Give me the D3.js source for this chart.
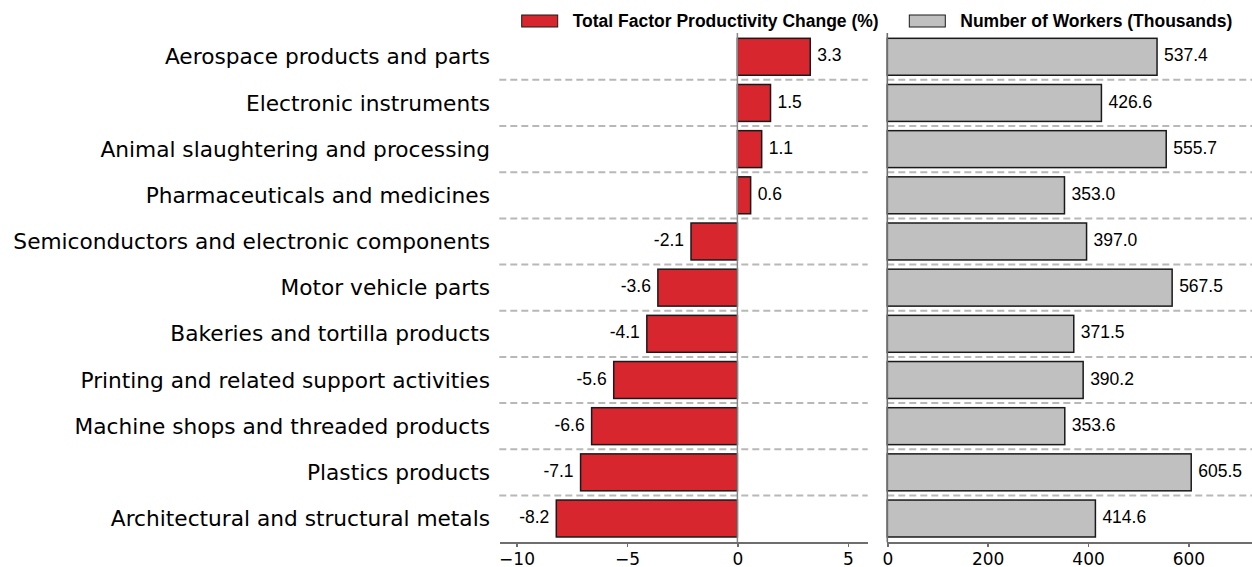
<!DOCTYPE html>
<head>
  <meta charset="utf-8">
  <script src="https://d3js.org/d3.v7.min.js"></script>
  <style>
    body { margin: 0; background: #fff; }
    .axis path, .axis line { stroke: #6e6e6e; stroke-width: 1.6; shape-rendering: crispEdges; }
    .axis text { font-family: "DejaVu Sans", sans-serif; font-size: 17px; fill: #000; }
    .cat { font-family: "DejaVu Sans", sans-serif; font-size: 21.7px; fill: #000; }
    .val { font-family: "Liberation Sans", Arial, sans-serif; font-size: 17.5px; fill: #000; }
    .leg { font-family: "Liberation Sans", Arial, sans-serif; font-size: 17.5px; font-weight: bold; fill: #000; }
  </style>
</head>
<body>
<script>
    // categories, top to bottom
    var industries = [
        "Aerospace products and parts",
        "Electronic instruments",
        "Animal slaughtering and processing",
        "Pharmaceuticals and medicines",
        "Semiconductors and electronic components",
        "Motor vehicle parts",
        "Bakeries and tortilla products",
        "Printing and related support activities",
        "Machine shops and threaded products",
        "Plastics products",
        "Architectural and structural metals"
    ];
    var tfpChange = [3.3, 1.5, 1.1, 0.6, -2.1, -3.6, -4.1, -5.6, -6.6, -7.1, -8.2];
    var workers = [537.4, 426.6, 555.7, 353.0, 397.0, 567.5, 371.5, 390.2, 353.6, 605.5, 414.6];
    var tfpTicks = [-10, -5, 0, 5];
    var workerTicks = [0, 200, 400, 600];
    var legendLabels = ["Total Factor Productivity Change (%)", "Number of Workers (Thousands)"];

    var w = 1252, h = 567;
    var plotTop = 33, plotBottom = 542.3;

    var svg = d3.select("body").append("svg")
        .attr("width", w)
        .attr("height", h);

    var y = d3.scaleBand()
        .domain(industries)
        .range([plotTop, plotBottom])
        .paddingInner(0.2)
        .paddingOuter(0.115);

    var xL = d3.scaleLinear().domain([-10.78, 5.9]).range([499.3, 867.7]);
    var xR = d3.scaleLinear().domain([0, 726.6]).range([887.3, 1252]);

    // dashed separators between rows
    var seps = industries.slice(1);
    [xL, xR].forEach(function(sc) {
        svg.selectAll(null)
            .data(seps)
            .enter()
            .append("line")
            .attr("x1", sc.range()[0])
            .attr("x2", sc.range()[1])
            .attr("y1", function(d) { return y(d) - y.step() * y.paddingInner() / 2; })
            .attr("y2", function(d) { return y(d) - y.step() * y.paddingInner() / 2; })
            .attr("stroke", "#b8b8b8")
            .attr("stroke-width", 2)
            .attr("stroke-dasharray", "7,4");
    });

    // left panel bars
    svg.selectAll(".tfp")
        .data(tfpChange)
        .enter()
        .append("rect")
        .attr("x", function(d) { return xL(Math.min(0, d)); })
        .attr("y", function(d, i) { return y(industries[i]); })
        .attr("width", function(d) { return Math.abs(xL(d) - xL(0)); })
        .attr("height", y.bandwidth())
        .attr("fill", "#d7262e")
        .attr("stroke", "#1a1a1a")
        .attr("stroke-width", 1.5);

    // zero line
    svg.append("line")
        .attr("x1", xL(0)).attr("x2", xL(0))
        .attr("y1", plotTop).attr("y2", plotBottom)
        .attr("stroke", "#888")
        .attr("stroke-width", 1.5);

    svg.selectAll(".tfpval")
        .data(tfpChange)
        .enter()
        .append("text")
        .attr("class", "val")
        .attr("x", function(d) { return d >= 0 ? xL(d) + 7 : xL(d) - 7; })
        .attr("y", function(d, i) { return y(industries[i]) + y.bandwidth() / 2; })
        .attr("dy", "0.26em")
        .attr("text-anchor", function(d) { return d >= 0 ? "start" : "end"; })
        .text(function(d) { return d.toFixed(1); });

    // right panel bars
    svg.selectAll(".wk")
        .data(workers)
        .enter()
        .append("rect")
        .attr("x", xR(0))
        .attr("y", function(d, i) { return y(industries[i]); })
        .attr("width", function(d) { return xR(d) - xR(0); })
        .attr("height", y.bandwidth())
        .attr("fill", "#c0c0c0")
        .attr("stroke", "#1a1a1a")
        .attr("stroke-width", 1.5);

    svg.selectAll(".wkval")
        .data(workers)
        .enter()
        .append("text")
        .attr("class", "val")
        .attr("x", function(d) { return xR(d) + 7; })
        .attr("y", function(d, i) { return y(industries[i]) + y.bandwidth() / 2; })
        .attr("dy", "0.26em")
        .text(function(d) { return d.toFixed(1); });

    // category labels
    svg.selectAll(".cat")
        .data(industries)
        .enter()
        .append("text")
        .attr("class", "cat")
        .attr("x", 490)
        .attr("y", function(d) { return y(d) + y.bandwidth() / 2; })
        .attr("dy", "0.35em")
        .attr("text-anchor", "end")
        .text(function(d) { return d; });

    // axes
    svg.append("g")
        .attr("class", "axis")
        .attr("transform", "translate(0," + plotBottom + ")")
        .call(d3.axisBottom(xL).tickValues(tfpTicks).tickSize(5).tickSizeOuter(0).tickPadding(6)
            .tickFormat(function(d) { return d < 0 ? "\u2212" + Math.abs(d) : d; }));

    svg.append("g")
        .attr("class", "axis")
        .attr("transform", "translate(0," + plotBottom + ")")
        .call(d3.axisBottom(xR).tickValues(workerTicks).tickSize(5).tickSizeOuter(0).tickPadding(6));

    svg.append("line")
        .attr("x1", xR(0)).attr("x2", xR(0))
        .attr("y1", plotTop).attr("y2", plotBottom)
        .attr("stroke", "#6e6e6e")
        .attr("stroke-width", 1.6);

    // legend
    var legX = [521.7, 909.3];
    var legFill = ["#d7262e", "#c0c0c0"];
    legendLabels.forEach(function(lab, i) {
        svg.append("rect")
            .attr("x", legX[i]).attr("y", 15)
            .attr("width", 36).attr("height", 12)
            .attr("fill", legFill[i])
            .attr("stroke", "#1a1a1a")
            .attr("stroke-width", 1);
        svg.append("text")
            .attr("class", "leg")
            .attr("x", legX[i] + 51)
            .attr("y", 27)
            .text(lab);
    });
</script>
</body>
